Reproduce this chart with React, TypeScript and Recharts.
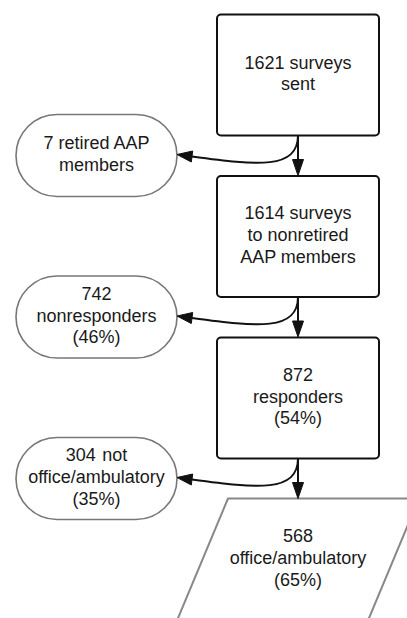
import { Scatter, ScatterChart, XAxis, YAxis } from "recharts";

// flow steps down the main column
const stepLabels = [
  ["1621 surveys", "sent"],
  ["1614 surveys", "to nonretired", "AAP members"],
  ["872", "responders", "(54%)"],
  ["568", "office/ambulatory", "(65%)"],
];

// exclusions branching off to the left after each step
const exclusionLabels = [
  ["7 retired AAP", "members"],
  ["742", "nonresponders", "(46%)"],
  ["304 \u200Anot", "office/ambulatory", "(35%)"],
];

const W = 407;
const H = 618;
const MAIN_X = 298;
const SIDE_X = 96.5;
const FIRST_Y = 75;
const STEP = 161.5;
const BOX_W = 162;
const BOX_H = 121;
const PILL_W = 161;
const PILL_H = 82;
const GAP = 40;
const LINE_H = 21.7;

const nodes = [
  ...stepLabels.map((lines, i) => ({
    x: MAIN_X,
    y: FIRST_Y + i * STEP,
    kind: i === stepLabels.length - 1 ? "io" : "box",
    lines,
  })),
  ...exclusionLabels.map((lines, i) => ({
    x: SIDE_X,
    y: FIRST_Y + i * STEP + BOX_H / 2 + 20,
    kind: "pill",
    lines,
  })),
];

const links = exclusionLabels.map((_, i) => ({
  x: MAIN_X,
  y: FIRST_Y + i * STEP + BOX_H / 2,
}));

function Label({ cx, cy, lines }: { cx: number; cy: number; lines: string[] }) {
  const n = lines.length;
  return (
    <text
      textAnchor="middle"
      fontFamily="'Liberation Sans', Arial, sans-serif"
      fontSize={18}
      fill="#1a1a1a"
      style={{ whiteSpace: "pre" }}
    >
      {lines.map((l, k) => (
        <tspan key={k} x={cx} y={cy + (k - (n - 1) / 2) * LINE_H + 4.5}>
          {l}
        </tspan>
      ))}
    </text>
  );
}

function NodeShape(props: any) {
  const { cx, cy, payload } = props;
  let outline;
  if (payload.kind === "box") {
    outline = (
      <rect
        x={cx - BOX_W / 2}
        y={cy - BOX_H / 2}
        width={BOX_W}
        height={BOX_H}
        rx={4}
        fill="#fff"
        stroke="#111"
        strokeWidth={2}
      />
    );
  } else if (payload.kind === "pill") {
    outline = (
      <rect
        x={cx - PILL_W / 2}
        y={cy - PILL_H / 2}
        width={PILL_W}
        height={PILL_H}
        rx={PILL_H / 2}
        fill="#fff"
        stroke="#777"
        strokeWidth={1.6}
      />
    );
  } else {
    const h = 61;
    const pts = [
      [cx - 70, cy - h],
      [cx + 121, cy - h],
      [cx + 70, cy + h],
      [cx - 121, cy + h],
    ]
      .map((p) => p.join(","))
      .join(" ");
    outline = <polygon points={pts} fill="#fff" stroke="#888" strokeWidth={2} strokeLinejoin="round" />;
  }
  return (
    <g>
      {outline}
      <Label cx={cx} cy={cy} lines={payload.lines} />
    </g>
  );
}

function LinkShape(props: any) {
  const { cx, cy } = props;
  const tipX = cx - (MAIN_X - (SIDE_X + PILL_W / 2));
  const tipY = cy + 19;
  const bx = tipX + 15;
  const by = tipY + 2;
  return (
    <g stroke="#111" strokeWidth={2} fill="none">
      <line x1={cx} y1={cy} x2={cx} y2={cy + GAP - 14} />
      <polygon
        points={`${cx},${cy + GAP} ${cx - 5.5},${cy + GAP - 16} ${cx + 5.5},${cy + GAP - 16}`}
        fill="#111"
        strokeWidth={1}
      />
      <path d={`M${cx},${cy} C${cx},${cy + 34} ${cx - 40},${cy + 30} ${bx},${by}`} />
      <polygon
        points={`${tipX},${tipY} ${bx - 0.7},${by + 5.5} ${bx + 0.7},${by - 5.5}`}
        fill="#111"
        strokeWidth={1}
      />
    </g>
  );
}

export default function App() {
  return (
    <div style={{ position: "absolute", left: 0, top: 0, width: W, height: H, background: "#fff" }}>
      <ScatterChart width={W} height={H} margin={{ top: 0, right: 0, bottom: 0, left: 0 }}>
        <XAxis type="number" dataKey="x" domain={[0, W]} hide />
        <YAxis type="number" dataKey="y" domain={[0, H]} reversed hide />
        <Scatter data={nodes} shape={(p: any) => <NodeShape {...p} />} isAnimationActive={false} />
        <Scatter data={links} shape={(p: any) => <LinkShape {...p} />} isAnimationActive={false} />
      </ScatterChart>
    </div>
  );
}
